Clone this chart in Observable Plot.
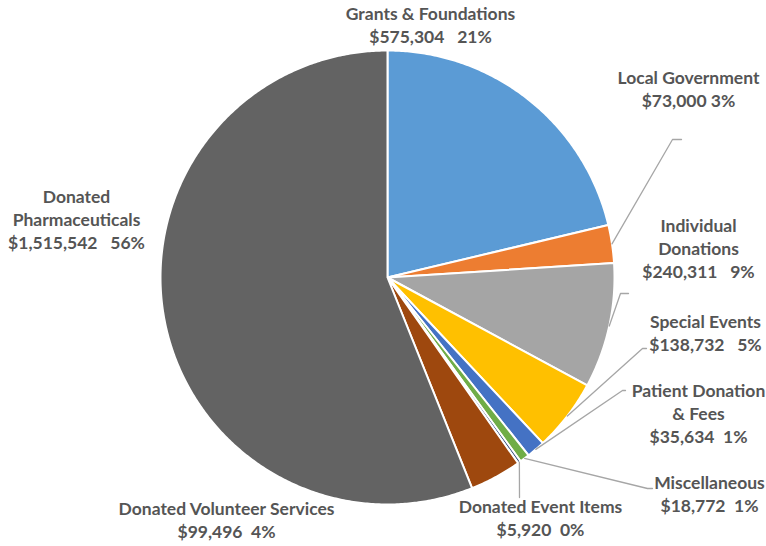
<!DOCTYPE html>
<html><head><meta charset="utf-8">
<script src="https://cdn.jsdelivr.net/npm/d3@7"></script>
<script src="https://cdn.jsdelivr.net/npm/@observablehq/plot@0.6"></script>
<style>
html,body{margin:0;padding:0;background:#fff;}
#chart text{white-space:pre;}
</style></head><body><div id="chart"></div>
<script>
// ---- data ----
const categories = ["Grants & Foundations", "Local Government", "Individual Donations", "Special Events",
  "Patient Donation & Fees", "Miscellaneous", "Donated Event Items", "Donated Volunteer Services", "Donated Pharmaceuticals"];
const amounts = [575304, 73000, 240311, 138732, 35634, 18772, 5920, 99496, 1515542];
const colors = ["#5B9BD5", "#ED7D31", "#A5A5A5", "#FFC000", "#4472C4", "#70AD47", "#264478", "#9E480E", "#636363"];
// label line breaks (category text split as in the chart)
const labelNames = ["Grants & Foundations", "Local Government", "Individual\nDonations", "Special Events",
  "Patient Donation\n& Fees", "Miscellaneous", "Donated Event Items", "Donated Volunteer Services", "Donated\nPharmaceuticals"];
const valueGaps = ["   ", " ", "   ", "   ", "  ", "  ", "  ", "  ", "   "];

// ---- layout (pixels in the 766x546 frame) ----
const W = 766, H = 546, CX = 387, CY = 277, R = 227;
// label anchor: center x, last baseline y
const labelAnchors = [[430, 42], [688, 106], [698, 277], [705, 350], [698, 442], [709, 511], [540, 535], [226, 537], [76, 248]];
// leader elbow and end points (null = no leader)
const leaderPts = [null, [[672, 139], [681, 139]], [[620, 293], [628, 293]], [[642, 348], [646, 348]],
  [[622, 390], [625, 390]], [[647, 488], [652, 488]], [[519, 497], [519, 497]], null, null];

const ux = px => (px - CX) / R;
const uy = py => (CY - py) / R;

const total = d3.sum(amounts);
const arcs = d3.pie().sort(null).value(d => d)(amounts);

// slice outlines in chart units (unit circle)
const slicePts = [];
arcs.forEach((a, i) => {
  const cat = categories[i];
  slicePts.push({cat, x: 0, y: 0});
  const n = Math.max(2, Math.ceil((a.endAngle - a.startAngle) / (Math.PI / 360)));
  for (let k = 0; k <= n; k++) {
    const t = a.startAngle + (a.endAngle - a.startAngle) * k / n;
    slicePts.push({cat, x: Math.sin(t), y: Math.cos(t)});
  }
  slicePts.push({cat, x: 0, y: 0});
});

// leader lines
const leaders = [];
arcs.forEach((a, i) => {
  if (!leaderPts[i]) return;
  const m = (a.startAngle + a.endAngle) / 2;
  leaders.push({cat: categories[i], x: Math.sin(m), y: Math.cos(m)});
  leaderPts[i].forEach(([px, py]) => leaders.push({cat: categories[i], x: ux(px), y: uy(py)}));
});

const fmtMoney = d3.format("$,");
const labels = categories.map((c, i) => ({
  cat: c,
  x: ux(labelAnchors[i][0]),
  y: uy(labelAnchors[i][1]),
  text: labelNames[i] + "\n" + fmtMoney(amounts[i]) + valueGaps[i] + Math.round(amounts[i] / total * 100) + "%"
}));

const chart = Plot.plot({
  width: W, height: H, margin: 0,
  x: {domain: [ux(0), ux(W)], axis: null},
  y: {domain: [uy(H), uy(0)], axis: null},
  color: {domain: categories, range: colors},
  style: {background: "white"},
  marks: [
    Plot.line(slicePts, {x: "x", y: "y", z: "cat", fill: "cat", stroke: "white", strokeWidth: 2, strokeLinejoin: "round", curve: "linear"}),
    Plot.line(leaders, {x: "x", y: "y", z: "cat", stroke: "#A6A6A6", strokeWidth: 1.3}),
    Plot.text(labels, {x: "x", y: "y", text: "text", lineAnchor: "bottom", lineHeight: 1.314, textAnchor: "middle",
      fontSize: 17.5, fontWeight: "bold", fill: "#555555", fontFamily: "Lato, 'Open Sans', sans-serif"})
  ]
});
document.getElementById("chart").appendChild(chart);
</script>
</body></html>
